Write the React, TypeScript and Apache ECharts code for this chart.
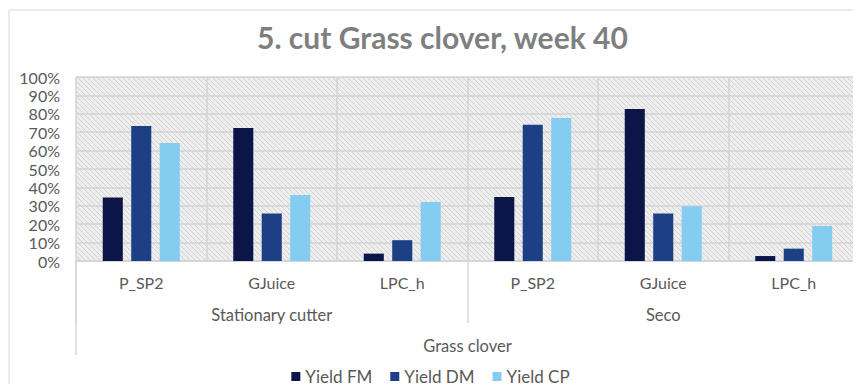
import React, { useEffect, useRef } from "react";
import * as echarts from "echarts";

const title = "5. cut Grass clover, week 40";
const categories = ["P_SP2", "GJuice", "LPC_h", "P_SP2", "GJuice", "LPC_h"];
const groups = ["Stationary cutter", "Seco"];
const topGroup = ["Grass clover"];
const seriesNames = ["Yield FM", "Yield DM", "Yield CP"];
const yieldFM = [34.5, 72.3, 4.0, 34.8, 82.6, 2.7];
const yieldDM = [73.4, 25.8, 11.3, 74.1, 25.8, 6.7];
const yieldCP = [64.1, 35.9, 32.1, 77.7, 29.7, 19.0];
const colors = ["#0c1548", "#1d3f86", "#84cdf0"];

const FONT = "Lato, 'Open Sans', sans-serif";
const LABEL = "#595959";

export default function App() {
  const ref = useRef<HTMLDivElement>(null);
  useEffect(() => {
    const chart = echarts.init(ref.current!, null, { renderer: "svg" });
    const data = [yieldFM, yieldDM, yieldCP];
    const hatchSeries = {
      type: "custom",
      name: "hatch",
      xAxisIndex: 0,
      yAxisIndex: 0,
      silent: true,
      clip: true,
      z: 1,
      data: [[0, 0]],
      renderItem: (params: any) => {
        const cs = params.coordSys;
        const children: any[] = [];
        const step = 5;
        for (let k = -cs.height; k < cs.width; k += step) {
          children.push({
            type: "line",
            shape: { x1: cs.x + k, y1: cs.y, x2: cs.x + k + cs.height, y2: cs.y + cs.height },
            style: { stroke: "#d2d2d2", lineWidth: 1 },
          });
        }
        return { type: "group", children };
      },
    };
    chart.setOption({
      animation: false,
      textStyle: { fontFamily: FONT },
      title: {
        text: title,
        left: 252,
        top: 17,
        textStyle: { fontSize: 30, fontWeight: "bold", color: "#7f7f7f", fontFamily: FONT },
      },
      graphic: [
        {
          type: "rect",
          shape: { x: 9, y: 10, width: 900, height: 500 },
          style: { fill: "none", stroke: "#d9d9d9", lineWidth: 1 },
          silent: true,
          z: -10,
        },
      ],
      legend: {
        data: seriesNames,
        bottom: 2,
        left: "center",
        icon: "rect",
        itemWidth: 9,
        itemHeight: 9,
        itemGap: 18,
        textStyle: { fontSize: 17, color: LABEL, fontFamily: FONT },
      },
      grid: {
        left: 76,
        right: 2,
        top: 77,
        bottom: 131,
        show: true,
        borderWidth: 0,
        backgroundColor: "#eeeeee",
      },
      yAxis: {
        type: "value",
        min: 0,
        max: 100,
        interval: 10,
        axisLabel: {
          formatter: (v: number) => v + "%",
          fontSize: 16,
          color: LABEL,
          margin: 16,
          fontFamily: FONT,
        },
        axisLine: { show: false },
        axisTick: { show: false },
        splitLine: { lineStyle: { color: "#d3d3d3", width: 1.5 } },
      },
      xAxis: [
        {
          type: "category",
          data: categories,
          position: "bottom",
          axisLine: { show: true, lineStyle: { color: "#d3d3d3", width: 1.5 } },
          axisTick: { show: false },
          splitLine: { show: true, lineStyle: { color: "#d3d3d3", width: 1.5 } },
          axisLabel: { fontSize: 16, color: LABEL, margin: 13, fontFamily: FONT },
        },
        {
          type: "category",
          data: groups,
          position: "bottom",
          axisLine: { show: false },
          axisTick: { show: true, length: 62, lineStyle: { color: "#d9d9d9", width: 1.5 } },
          axisLabel: { fontSize: 16.5, color: LABEL, margin: 45, fontFamily: FONT },
        },
        {
          type: "category",
          data: topGroup,
          position: "bottom",
          axisLine: { show: false },
          axisTick: { show: true, length: 94, lineStyle: { color: "#d9d9d9", width: 1.5 } },
          axisLabel: { fontSize: 16.5, color: LABEL, margin: 76, fontFamily: FONT },
        },
      ],
      series: [
        hatchSeries,
        ...seriesNames.map((name, i) => ({
          name,
          type: "bar",
          xAxisIndex: 0,
          z: 3,
          data: data[i],
          barGap: "42%",
          barCategoryGap: "41%",
          itemStyle: { color: colors[i] },
        })),
      ],
    });
    return () => chart.dispose();
  }, []);
  return <div ref={ref} style={{ width: 861, height: 392, margin: -8 }} />;
}
